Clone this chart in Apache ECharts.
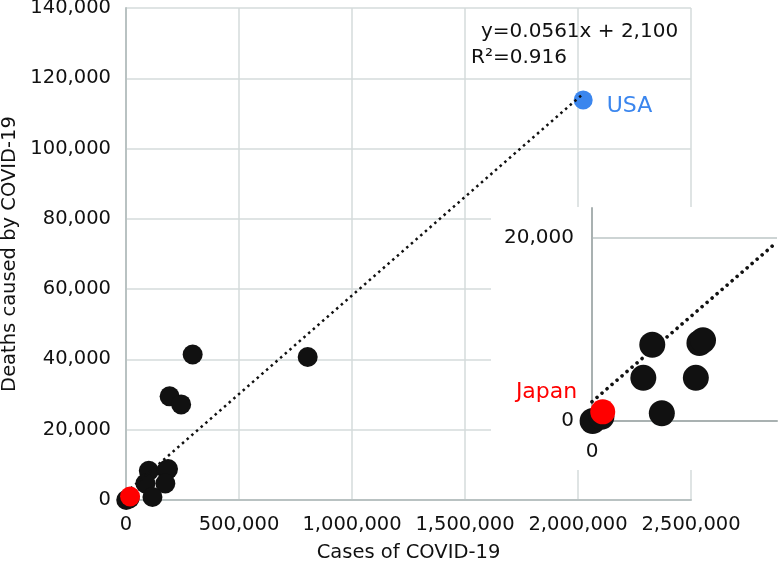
<!DOCTYPE html>
<html>
<head>
<meta charset="utf-8">
<script src="https://cdn.jsdelivr.net/npm/echarts@6/dist/echarts.min.js"></script>
<style>html,body{margin:0;padding:0;background:#fff}#c{width:780px;height:567px}</style>
</head>
<body>
<div id="c"></div>
<script>
// ---- data ----
const otherCases  = [804000, 295000, 193000, 244000, 101000, 180000, 186000, 86000, 174000, 117000, 1000, 15800];
const otherDeaths = [40700, 41400, 29500, 27200, 8300, 8500, 8800, 4700, 4700, 850, 0, 450];
const usaPoint   = [2023000, 113800];
const japanPoint = [18000, 1000];
const trendX = [0, 2023000];
const trendY = [2100, 115600];
const insetTrendX = [0, 310000];
const insetTrendY = [2100, 19500];
const insetMaxDeaths = 23200;
const xTicks = [0, 500000, 1000000, 1500000, 2000000, 2500000];
const yTicks = [0, 20000, 40000, 60000, 80000, 100000, 120000, 140000];
const equationText = 'y=0.0561x + 2,100';
const r2Text = 'R\u00B2=0.916';

const fmt = v => String(v).replace(/\B(?=(\d{3})+(?!\d))/g, ',');
const others = otherCases.map((c, i) => [c, otherDeaths[i]]);
const insetOthers = others.filter(p => p[0] <= insetTrendX[1] && p[1] <= insetMaxDeaths);
const trend = trendX.map((x, i) => [x, trendY[i]]);
const insetTrend = insetTrendX.map((x, i) => [x, insetTrendY[i]]);

const FONT = 'DejaVu Sans';
const AXIS = '#b9c2c2';
const GRID = '#d5dbdb';

const chart = echarts.init(document.getElementById('c'), null, {renderer: 'canvas'});
chart.setOption({
  animation: false,
  textStyle: {fontFamily: FONT},
  grid: [
    {left: 126, right: 89, top: 8, bottom: 67, containLabel: false, outerBoundsMode: 'none'},
    {left: 592, right: 3, top: 208, bottom: 146, containLabel: false, outerBoundsMode: 'none'}
  ],
  xAxis: [
    {
      gridIndex: 0, type: 'value', min: xTicks[0], max: xTicks[xTicks.length - 1], interval: xTicks[1] - xTicks[0],
      name: 'Cases of COVID-19', nameLocation: 'middle', nameGap: 43,
      nameTextStyle: {fontFamily: FONT, fontSize: 19.5, color: '#111'},
      axisLine: {show: true, lineStyle: {color: AXIS, width: 2}},
      axisTick: {show: false},
      axisLabel: {fontFamily: FONT, fontSize: 19.5, color: '#111', margin: 15, formatter: v => fmt(v)},
      splitLine: {show: true, lineStyle: {color: GRID, width: 1.5}}
    },
    {
      gridIndex: 1, type: 'value', min: 0, max: insetTrendX[1], interval: 100000, z: 6,
      axisLine: {show: true, onZero: false, lineStyle: {color: '#a9b1b1', width: 2}},
      axisTick: {show: false},
      axisLabel: {fontFamily: FONT, fontSize: 20, color: '#111', margin: 21, formatter: v => v === 0 ? '0' : ''},
      splitLine: {show: false}
    }
  ],
  yAxis: [
    {
      gridIndex: 0, type: 'value', min: yTicks[0], max: yTicks[yTicks.length - 1], interval: yTicks[1] - yTicks[0],
      name: 'Deaths caused by COVID-19', nameLocation: 'middle', nameGap: 106,
      nameTextStyle: {fontFamily: FONT, fontSize: 19.5, color: '#111'},
      axisLine: {show: true, lineStyle: {color: AXIS, width: 2}},
      axisTick: {show: false},
      axisLabel: {fontFamily: FONT, fontSize: 19.5, color: '#111', margin: 15, formatter: v => fmt(v)},
      splitLine: {show: true, lineStyle: {color: GRID, width: 1.5}}
    },
    {
      gridIndex: 1, type: 'value', min: 0, max: insetMaxDeaths, interval: 20000, z: 6,
      axisLine: {show: true, onZero: false, lineStyle: {color: '#a9b1b1', width: 2}},
      axisTick: {show: false},
      axisLabel: {fontFamily: FONT, fontSize: 20, color: '#111', margin: 18,
        formatter: v => (v === 0 || v === 20000) ? fmt(v) : ''},
      splitLine: {show: false}
    }
  ],
  graphic: [
    {type: 'rect', z: 5, silent: true, shape: {x: 491, y: 207, width: 289, height: 263}, style: {fill: '#ffffff'}},
    {type: 'text', z: 10, left: 481, top: 22, style: {text: equationText, fontFamily: FONT, fontSize: 20, fill: '#111'}},
    {type: 'text', z: 10, left: 471, top: 48, style: {text: r2Text, fontFamily: FONT, fontSize: 20, fill: '#111'}}
  ],
  series: [
    {
      type: 'line', xAxisIndex: 0, yAxisIndex: 0, data: trend, symbol: 'none', z: 3,
      lineStyle: {color: '#111', width: 2.5, type: [2.5, 3.7]}
    },
    {
      type: 'scatter', xAxisIndex: 0, yAxisIndex: 0, data: others, symbol: 'circle', symbolSize: 20, z: 2,
      itemStyle: {color: '#111', opacity: 1}
    },
    {
      type: 'scatter', xAxisIndex: 0, yAxisIndex: 0, data: [japanPoint], symbol: 'circle', symbolSize: 20, z: 4,
      itemStyle: {color: '#ff0000', opacity: 1}
    },
    {
      type: 'scatter', xAxisIndex: 0, yAxisIndex: 0, data: [usaPoint], symbol: 'circle', symbolSize: 19, z: 2,
      itemStyle: {color: '#3b86ee', opacity: 1},
      label: {show: true, position: 'right', distance: 14, offset: [0, 6], formatter: 'USA',
        fontFamily: FONT, fontSize: 22, color: '#3b86ee'}
    },
    // inset
    {
      type: 'line', xAxisIndex: 1, yAxisIndex: 1, data: insetTrend, symbol: 'none', z: 7, clip: false,
      lineStyle: {color: '#111', width: 3.6, type: [0.01, 6.6], cap: 'round'},
      markLine: {silent: true, symbol: 'none', label: {show: false},
        lineStyle: {color: '#cdd4d4', width: 2, type: 'solid'}, data: [{yAxis: 20000}]}
    },
    {
      type: 'scatter', xAxisIndex: 1, yAxisIndex: 1, data: insetOthers, symbol: 'circle', symbolSize: 26, z: 7, clip: false,
      itemStyle: {color: '#111', opacity: 1}
    },
    {
      type: 'scatter', xAxisIndex: 1, yAxisIndex: 1, data: [japanPoint], symbol: 'circle', symbolSize: 25, z: 8, clip: false,
      itemStyle: {color: '#ff0000', opacity: 1},
      label: {show: true, position: 'left', distance: 13, offset: [0, -20], formatter: 'Japan',
        fontFamily: FONT, fontSize: 22, color: '#ff0000'}
    }
  ]
});
</script>
</body>
</html>
